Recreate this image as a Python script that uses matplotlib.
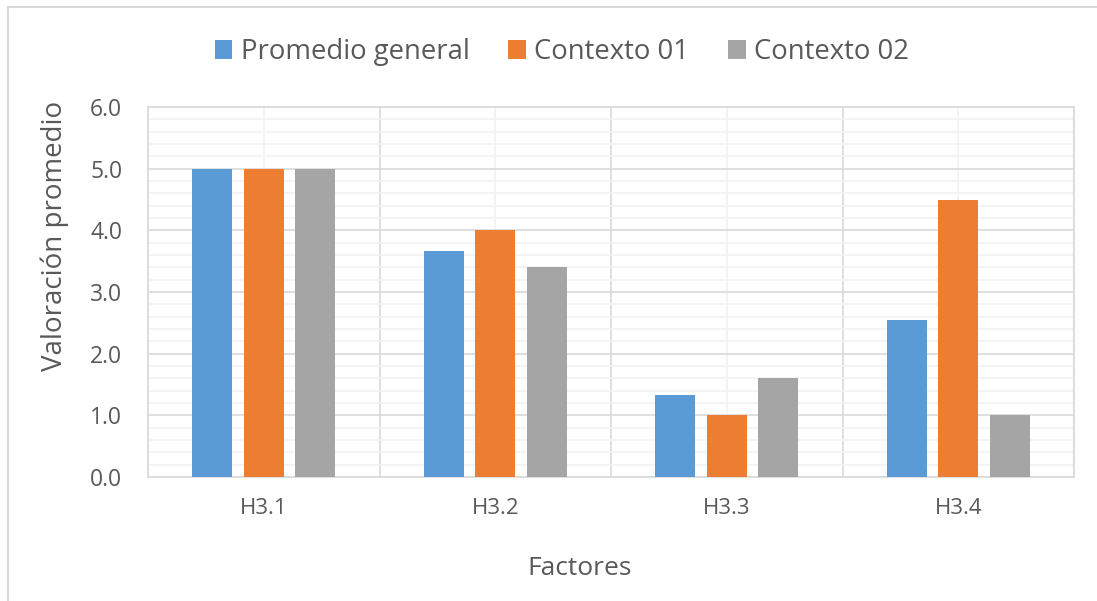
import matplotlib.pyplot as plt
import matplotlib.patches as mpatches
from matplotlib.ticker import MultipleLocator
import numpy as np

# data
categories = ['H3.1', 'H3.2', 'H3.3', 'H3.4']
series_names = ['Promedio general', 'Contexto 01', 'Contexto 02']
promedio_general = [5.0, 3.67, 1.33, 2.55]
contexto_01 = [5.0, 4.0, 1.0, 4.5]
contexto_02 = [5.0, 3.4, 1.6, 1.0]
colors = ['#5b9bd5', '#ed7d31', '#a5a5a5']

plt.rcParams['font.family'] = ['Open Sans', 'DejaVu Sans']
txt = '#595959'

fig = plt.figure(figsize=(10.97, 6.01), dpi=100)
ax = fig.add_axes([148/1097, 1 - 477/601, (1074-148)/1097, (477-107)/601])

x = np.arange(len(categories))
w = 0.173
off = 0.2225
for i, (vals, name) in enumerate(zip([promedio_general, contexto_01, contexto_02], series_names)):
    ax.bar(x + (i - 1) * off, vals, width=w, color=colors[i], label=name, zorder=3)

ax.set_xlim(-0.5, 3.5)
ax.set_ylim(0, 6)
ax.yaxis.set_major_locator(MultipleLocator(1))
ax.yaxis.set_minor_locator(MultipleLocator(0.2))
ax.yaxis.set_major_formatter(lambda v, p: f'{v:.1f}')
ax.set_xticks(x)
ax.set_xticklabels(categories)
ax.set_xticks([-0.5, 0.5, 1.5, 2.5, 3.5], minor=True)

# grid: lighter minor lines, darker major ones
ax.grid(which='minor', axis='y', color='#f2f2f2', linewidth=1.2, zorder=0)
ax.grid(which='major', axis='y', color='#d9d9d9', linewidth=1.2, zorder=1)
ax.grid(which='major', axis='x', color='#f2f2f2', linewidth=1.2, zorder=0)
ax.grid(which='minor', axis='x', color='#d9d9d9', linewidth=1.2, zorder=1)

ax.tick_params(which='both', length=0)
ax.tick_params(axis='y', labelsize=16.5, labelcolor=txt, pad=18.5)
ax.tick_params(axis='x', labelsize=16, labelcolor=txt, pad=15)
for s in ax.spines.values():
    s.set_color('#d9d9d9')
    s.set_linewidth(1.2)

ax.set_ylabel('Valoración promedio', fontsize=20, color=txt, va='center')
ax.yaxis.set_label_coords(-0.1004, 0.651)
ax.set_xlabel('Factores', fontsize=19, color=txt, va='center')
ax.xaxis.set_label_coords(0.4665, -0.246)

fig.legend(loc='center', bbox_to_anchor=(0.512, 1 - 52/601), ncol=3, frameon=False,
           fontsize=19.8, labelcolor=txt, handlelength=0.65, handleheight=0.65,
           handletextpad=0.3, columnspacing=1.4)

# outer chart border
fig.patches.append(mpatches.Rectangle((8/1097, -0.05), 1.1, 1 - 7/601 + 0.05,
                                      transform=fig.transFigure, fill=False,
                                      edgecolor='#d9d9d9', linewidth=1.5))

fig.savefig('out.png', dpi=100)
